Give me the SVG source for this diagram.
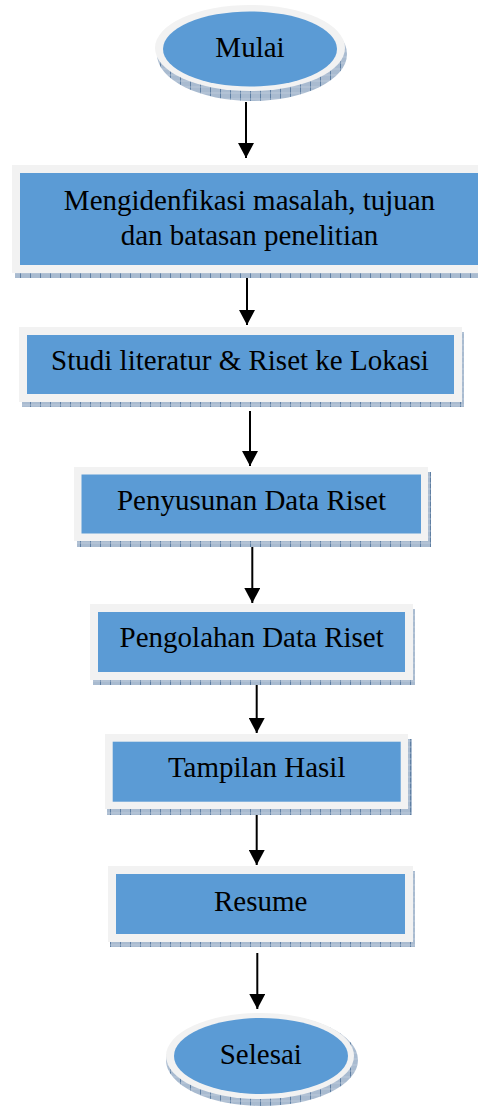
<svg xmlns="http://www.w3.org/2000/svg" width="478" height="1106" viewBox="0 0 478 1106">
<defs>
<pattern id="hatch" width="10" height="6" patternUnits="userSpaceOnUse">
<rect width="10" height="6" fill="#a9bbd0"/>
<line x1="0.5" y1="0" x2="0.5" y2="6" stroke="#5f7fa3" stroke-width="1"/>
<line x1="0" y1="3" x2="10" y2="3" stroke="#c5d2e0" stroke-width="0.6"/>
</pattern>
<marker id="ah" markerUnits="userSpaceOnUse" markerWidth="15" markerHeight="16" refX="15" refY="8" orient="auto" viewBox="0 0 15 16">
<path d="M0,0 L15,8 L0,16 Z" fill="#000"/>
</marker>
</defs>
<style>
.sh{fill:url(#hatch);}
.bd{fill:#f2f2f2;}
.bl{fill:#5b9bd5;}
.t{font-family:"Liberation Serif","Times New Roman",serif;font-size:29px;fill:#000;text-anchor:middle;}
.c{stroke:#000;stroke-width:2;fill:none;}
</style>
<rect width="478" height="1106" fill="#fff"/>
<g id="connectors">
<line class="c" x1="246" y1="102" x2="246" y2="158" marker-end="url(#ah)"/>
<line class="c" x1="247" y1="267" x2="247" y2="325" marker-end="url(#ah)"/>
<line class="c" x1="250" y1="411" x2="250" y2="466" marker-end="url(#ah)"/>
<line class="c" x1="252.3" y1="545" x2="252.3" y2="603" marker-end="url(#ah)"/>
<line class="c" x1="256.7" y1="680" x2="256.7" y2="733" marker-end="url(#ah)"/>
<line class="c" x1="256.7" y1="810" x2="256.7" y2="865" marker-end="url(#ah)"/>
<line class="c" x1="257.3" y1="953" x2="257.3" y2="1009" marker-end="url(#ah)"/>
</g>
<g id="mulai">
<ellipse class="sh" cx="252" cy="54" rx="95" ry="47"/>
<ellipse class="bd" cx="250" cy="48" rx="95" ry="43"/>
<ellipse class="bl" cx="250" cy="49" rx="87" ry="37.5"/>
<text class="t" x="250" y="57">Mulai</text>
</g>
<g id="identifikasi">
<rect class="sh" x="15" y="273" width="463" height="5"/>
<rect class="bd" x="12" y="165" width="470" height="108"/>
<rect class="bl" x="20" y="173" width="462" height="92"/>
<text class="t" x="249.5" y="209.5">Mengidenfikasi masalah, tujuan</text>
<text class="t" x="249.5" y="245">dan batasan penelitian</text>
</g>
<g id="studi">
<rect class="sh" x="22" y="332" width="442" height="75"/>
<rect class="bd" x="19" y="327" width="443" height="75"/>
<rect class="bl" x="27" y="335" width="427" height="59"/>
<text class="t" x="240" y="370">Studi literatur &amp; Riset ke Lokasi</text>
</g>
<g id="penyusunan">
<rect class="sh" x="77" y="472" width="354" height="75"/>
<rect class="bd" x="74" y="467" width="354" height="74"/>
<rect class="bl" x="81.5" y="474.5" width="339.5" height="59"/>
<text class="t" x="251.5" y="510">Penyusunan Data Riset</text>
</g>
<g id="pengolahan">
<rect class="sh" x="93" y="609" width="322" height="76"/>
<rect class="bd" x="90" y="604" width="323" height="76"/>
<rect class="bl" x="98" y="612" width="307" height="60"/>
<text class="t" x="251.7" y="647">Pengolahan Data Riset</text>
</g>
<g id="tampilan">
<rect class="sh" x="107" y="739" width="305" height="76"/>
<rect class="bd" x="105" y="734" width="303" height="75"/>
<rect class="bl" x="112.7" y="741.7" width="288" height="60"/>
<text class="t" x="256.7" y="777">Tampilan Hasil</text>
</g>
<g id="resume">
<rect class="sh" x="110" y="871" width="305" height="76"/>
<rect class="bd" x="108" y="866" width="305" height="76"/>
<rect class="bl" x="116" y="874" width="289" height="60"/>
<text class="t" x="260.7" y="911">Resume</text>
</g>
<g id="selesai">
<ellipse class="sh" cx="262" cy="1060" rx="96" ry="46"/>
<ellipse class="bd" cx="260" cy="1056" rx="94" ry="43"/>
<ellipse class="bl" cx="261" cy="1056" rx="87" ry="38"/>
<text class="t" x="260.8" y="1064">Selesai</text>
</g>
</svg>
